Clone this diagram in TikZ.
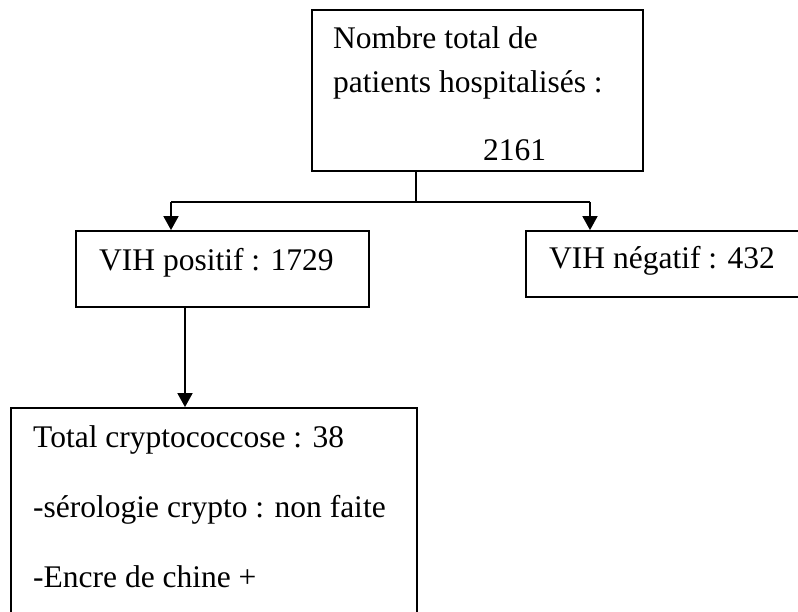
\documentclass[tikz,border=0pt]{standalone}
\usepackage{fontspec}
\setmainfont{Liberation Serif}
\usepackage{tikz}
\usetikzlibrary{calc, arrows.meta}

\tikzset{
	box/.style = {draw, line width = 1.8pt, inner sep = 0pt},
	label text/.style = {anchor = base west, inner sep = 0pt, font = \fontsize{31.5}{38}\selectfont},
	line/.style = {line width = 1.8pt},
	arrow/.style = {line width = 1.8pt, -{Triangle[length = 14pt, width = 15pt]}}
}

\begin{document}
\begin{tikzpicture}[x = 1pt, y = -1pt]
		\useasboundingbox (0,0) rectangle (798,612);
		
		\node [box, minimum width = 331pt, minimum height = 161pt] (total) at (477.5,90.5) {};
		\node [box, minimum width = 293pt, minimum height = 76pt] (positive) at (222.5,269) {};
		\node [box, minimum width = 276pt, minimum height = 66pt] (negative) at (664,264) {};
		\node [box, minimum width = 406pt, minimum height = 240pt] (crypto) at (214,528) {};
		
		\node [label text] (total line a) at (333,49) {Nombre total de};
		\node [label text] (total line b) at (333,93) {patients hospitalisés :};
		\node [label text] (total number) at (483,161) {2161};
		\node [label text] (positive text) at (99,271) {VIH positif : 1729};
		\node [label text] (negative text) at (549,269) {VIH négatif : 432};
		\node [label text] (crypto line a) at (33,447) {Total cryptococcose : 38};
		\node [label text] (crypto line b) at (33,517) {-sérologie crypto : non faite};
		\node [label text] (crypto line c) at (33,587) {-Encre de chine +};
		
		\coordinate (split) at (416,202);
		\coordinate (positive in) at (171,202);
		\coordinate (negative in) at (590,202);
		\coordinate (crypto in) at (185,0);
		
		\draw [line] (split |- total.south) -- (split);
		\draw [line] (positive in) -- (negative in);
		\draw [arrow] (positive in) -- (positive in |- positive.north);
		\draw [arrow] (negative in) -- (negative in |- negative.north);
		\draw [arrow] (crypto in |- positive.south) -- (crypto in |- crypto.north);
	\end{tikzpicture}
\end{document}
